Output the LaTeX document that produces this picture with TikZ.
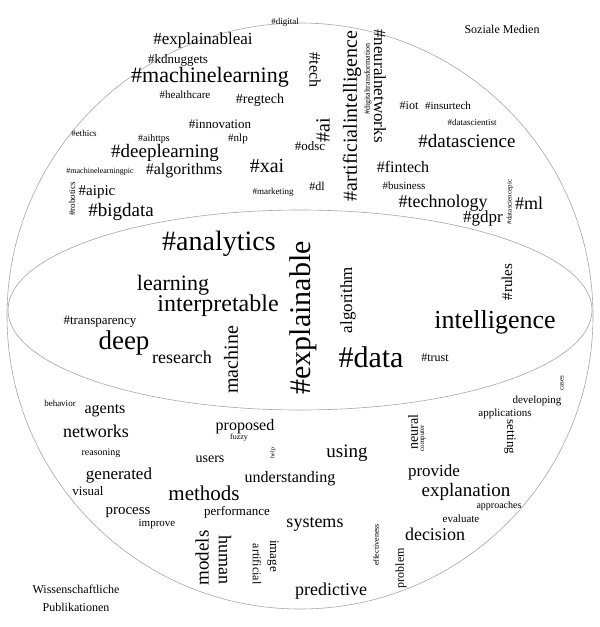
\documentclass[tikz,border=0pt]{standalone}
\usepackage{fontspec}
\setmainfont{Liberation Serif}
\tikzset{
  word/.style={inner sep=0pt, font=\fontsize{#1}{#1}\selectfont},
  up/.style={rotate=90},
  down/.style={rotate=-90},
  rim/.style={draw=gray!70, line width=0.6pt}
}
\begin{document}
\begin{tikzpicture}[x=1pt,y=-1pt]
  \useasboundingbox (0,0) rectangle (600,627);
  % outer circle and middle ellipse
  \draw [rim] (300,316) circle [radius=293];
  \draw [rim] (300,310) ellipse [x radius=292, y radius=100];
  % social media
  \node [word=12] (soz1) at (502,29) {Soziale Medien};
  \node [word=9] (w1) at (285,22) {\#digital};
  \node [word=17] (w2) at (203,40) {\#explainableai};
  \node [word=13] (w3) at (178,60) {\#kdnuggets};
  \node [word=22] (w4) at (210,77) {\#machinelearning};
  \node [word=11] (w5) at (185,95) {\#healthcare};
  \node [word=14] (w6) at (260,100) {\#regtech};
  \node [word=16,down] (w7) at (315,70) {\#tech};
  \node [word=13] (w8) at (220,124) {\#innovation};
  \node [word=9] (w9) at (84,133) {\#ethics};
  \node [word=10] (w10) at (154,139) {\#aihttps};
  \node [word=11] (w11) at (238,139) {\#nlp};
  \node [word=19] (w12) at (165,153) {\#deeplearning};
  \node [word=13] (w13) at (310,146) {\#odsc};
  \node [word=20,up] (w14) at (323,130) {\#ai};
  \node [word=20] (w15) at (267,166) {\#xai};
  \node [word=8] (w16) at (100,172) {\#machinelearningpic};
  \node [word=16] (w17) at (184,171) {\#algorithms};
  \node [word=9,up] (w18) at (72,199) {\#robotics};
  \node [word=15] (w19) at (97,192) {\#aipic};
  \node [word=19] (w20) at (121,212) {\#bigdata};
  \node [word=9] (w21) at (273,192) {\#marketing};
  \node [word=12] (w22) at (317,186) {\#dl};
  \node [word=20,up] (w23) at (352,116) {\#artificialintelligence};
  \node [word=8,up] (w24) at (368,79) {\#digitaltransformation};
  \node [word=17,down] (w25) at (380,86) {\#neuralnetworks};
  \node [word=12] (w26) at (409,106) {\#iot};
  \node [word=11] (w27) at (448,106) {\#insurtech};
  \node [word=9] (w28) at (472,122) {\#datascientist};
  \node [word=19] (w29) at (467,141) {\#datascience};
  \node [word=16] (w30) at (403,167) {\#fintech};
  \node [word=11] (w31) at (404,186) {\#business};
  \node [word=18] (w32) at (443,203) {\#technology};
  \node [word=7,up] (w33) at (510,202) {\#datasciencepic};
  \node [word=18] (w34) at (529,203) {\#ml};
  \node [word=17] (w35) at (483,218) {\#gdpr};
  % both
  \node [word=28] (b1) at (219,244) {\#analytics};
  \node [word=30,up] (b2) at (303,318) {\#explainable};
  \node [word=17,up] (b3) at (348,300) {algorithm};
  \node [word=15,up] (b4) at (507,282) {\#rules};
  \node [word=22] (b5) at (173,285) {learning};
  \node [word=24] (b6) at (218,306) {interpretable};
  \node [word=26] (b7) at (495,322) {intelligence};
  \node [word=13] (b8) at (100,322) {\#transparency};
  \node [word=27] (b9) at (124,343) {deep};
  \node [word=18] (b10) at (182,357) {research};
  \node [word=20,up] (b11) at (231,360) {machine};
  \node [word=30] (b12) at (371,357) {\#data};
  \node [word=12] (b13) at (435,358) {\#trust};
  % scientific publications
  \node [word=12] (pub1) at (76,589) {Wissenschaftliche};
  \node [word=12] (pub2) at (76,607) {Publikationen};
  \node [word=9] (p1) at (60,403) {behavior};
  \node [word=16] (p2) at (105,411) {agents};
  \node [word=18] (p3) at (96,431) {networks};
  \node [word=10] (p4) at (101,453) {reasoning};
  \node [word=17] (p5) at (119,475) {generated};
  \node [word=13] (p6) at (88,491) {visual};
  \node [word=15] (p7) at (128,513) {process};
  \node [word=11] (p8) at (157,524) {improve};
  \node [word=16] (p9) at (245,427) {proposed};
  \node [word=8] (p10) at (239,438) {fuzzy};
  \node [word=14] (p11) at (210,459) {users};
  \node [word=6,up] (p12) at (273,453) {help};
  \node [word=16] (p13) at (290,479) {understanding};
  \node [word=21] (p14) at (204,493) {methods};
  \node [word=13] (p15) at (237,512) {performance};
  \node [word=18] (p16) at (315,524) {systems};
  \node [word=19,up] (p17) at (202,558) {models};
  \node [word=18,down] (p18) at (225,560) {human};
  \node [word=12,down] (p19) at (257,564) {artificial};
  \node [word=13,down] (p20) at (273,556) {image};
  \node [word=7,up] (p21) at (562,383) {cases};
  \node [word=11] (p22) at (537,401) {developing};
  \node [word=11] (p23) at (505,414) {applications};
  \node [word=13,down] (p24) at (510,437) {setting};
  \node [word=14,up] (p25) at (413,432) {neural};
  \node [word=7,up] (p26) at (423,438) {computer};
  \node [word=19] (p27) at (347,453) {using};
  \node [word=17] (p28) at (434,472) {provide};
  \node [word=19] (p29) at (466,492) {explanation};
  \node [word=10] (p30) at (499,506) {approaches};
  \node [word=11] (p31) at (461,519) {evaluate};
  \node [word=18] (p32) at (435,534) {decision};
  \node [word=8,up] (p33) at (376,545) {effectiveness};
  \node [word=12,up] (p34) at (401,568) {problem};
  \node [word=18] (p35) at (331,591) {predictive};
\end{tikzpicture}
\end{document}
